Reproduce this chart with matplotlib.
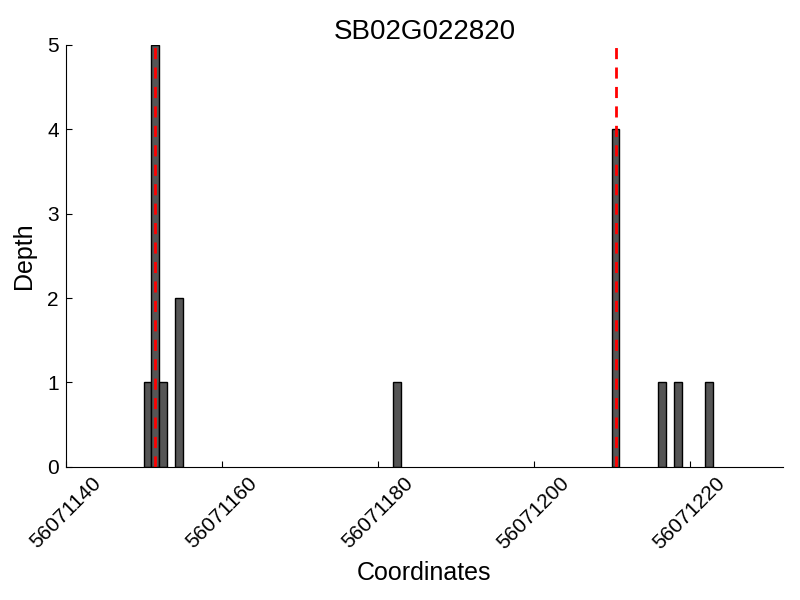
import matplotlib
matplotlib.use("Agg")
import matplotlib.pyplot as plt

plt.rcParams["font.family"] = ["Liberation Sans", "DejaVu Sans"]

# ── DATA ──────────────────────────────────────────────
TITLE       = "SB02G022820"
POSITIONS   = [56071150, 56071151, 56071152, 56071154, 56071182,
               56071210, 56071216, 56071218, 56071222]
DEPTHS      = [1, 5, 1, 2, 1, 4, 1, 1, 1]
MARKERS     = [56071151.5, 56071210.5]
XTICKS      = [56071140, 56071160, 56071180, 56071200, 56071220]

# ── PLOT ──────────────────────────────────────────────
fig = plt.figure(figsize=(8, 6), dpi=100)
ax = fig.add_axes([0.082, 0.222, 0.897, 0.703])

ax.bar(POSITIONS, DEPTHS, width=1, align="edge",
       color="#555555", edgecolor="black", linewidth=1)
for m in MARKERS:
    ax.axvline(m, color="red", linestyle="--", linewidth=2, dashes=(4, 3))

ax.set_xlim(56071140, 56071232)
ax.set_ylim(0, 5)
ax.set_xticks(XTICKS)
ax.set_xticklabels([str(t) for t in XTICKS], rotation=45)
ax.set_yticks(range(6))
ax.tick_params(direction="in", labelsize=15, length=4, pad=5)

ax.spines["top"].set_visible(False)
ax.spines["right"].set_visible(False)

ax.set_title(TITLE, fontsize=20, pad=4)
ax.set_xlabel("Coordinates", fontsize=18, labelpad=6)
ax.set_ylabel("Depth", fontsize=18, labelpad=8)

fig.savefig("out.png", dpi=100)
